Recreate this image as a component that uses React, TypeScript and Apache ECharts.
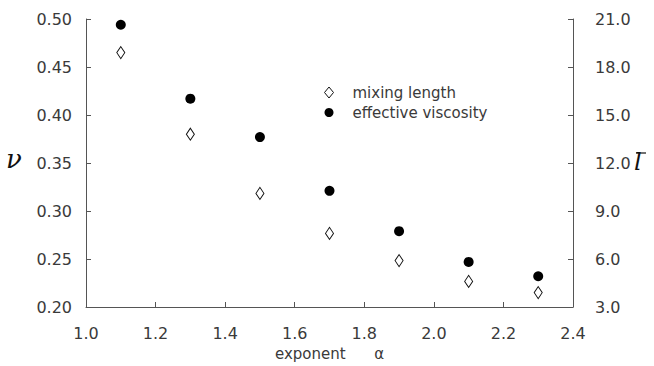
import React, { useEffect, useRef } from "react";
import * as echarts from "echarts";

const alphaValues = [1.1, 1.3, 1.5, 1.7, 1.9, 2.1, 2.3];
const effectiveViscosity = [0.494, 0.417, 0.377, 0.321, 0.279, 0.247, 0.232];
const mixingLength = [18.9, 13.8, 10.1, 7.6, 5.9, 4.6, 3.9];

const xTicks = { min: 1.0, max: 2.4, interval: 0.2 };
const nuTicks = { min: 0.2, max: 0.5, interval: 0.05 };
const lTicks = { min: 3, max: 21, interval: 3 };

const FONT = "DejaVu Sans";
const INK = "#3a3a3a";

export default function App() {
  const ref = useRef<HTMLDivElement>(null);
  useEffect(() => {
    document.body.style.margin = "0";
    const chart = echarts.init(ref.current!, null, { renderer: "svg" });
    const axisCommon = {
      axisLine: { show: true, lineStyle: { color: "#555", width: 1 } },
      axisTick: { show: true, inside: true, length: 5, lineStyle: { color: "#555" } },
      splitLine: { show: false },
    };
    chart.setOption({
      animation: false,
      backgroundColor: "#fff",
      grid: { left: 86, right: 81, top: 19, bottom: 55 },
      legend: {
        orient: "vertical",
        left: 319,
        top: 80,
        itemWidth: 9,
        itemHeight: 11,
        itemGap: 5,
        data: ["mixing length", "effective viscosity"],
        itemStyle: { borderWidth: 1 },
        textStyle: { fontFamily: FONT, fontSize: 15, color: INK, padding: [0, 0, 0, 14] },
      },
      xAxis: {
        type: "value",
        ...xTicks,
        ...axisCommon,
        axisLabel: {
          margin: 18,
          fontFamily: FONT,
          fontSize: 16,
          color: INK,
          formatter: (v: number) => v.toFixed(1),
        },
        name: "exponent      α",
        nameLocation: "middle",
        nameGap: 39,
        nameTextStyle: { fontFamily: FONT, fontSize: 15, color: INK },
      },
      yAxis: [
        {
          type: "value",
          position: "left",
          ...nuTicks,
          ...axisCommon,
          axisLabel: {
            margin: 14,
            fontFamily: FONT,
            fontSize: 16,
            color: INK,
            formatter: (v: number) => v.toFixed(2),
          },
        },
        {
          type: "value",
          position: "right",
          ...lTicks,
          ...axisCommon,
          axisLabel: {
            margin: 22,
            fontFamily: FONT,
            fontSize: 16,
            color: INK,
            formatter: (v: number) => v.toFixed(1),
          },
        },
      ],
      series: [
        {
          name: "mixing length",
          type: "scatter",
          yAxisIndex: 1,
          symbol: "diamond",
          symbolSize: [8, 12],
          itemStyle: { color: "#fff", borderColor: "#111", borderWidth: 1, opacity: 1 },
          data: alphaValues.map((a, i) => [a, mixingLength[i]]),
        },
        {
          name: "effective viscosity",
          type: "scatter",
          yAxisIndex: 0,
          symbol: "circle",
          symbolSize: 10,
          itemStyle: { color: "#000", opacity: 1 },
          data: alphaValues.map((a, i) => [a, effectiveViscosity[i]]),
        },
      ],
      graphic: [
        {
          type: "text",
          left: 6,
          top: 146,
          style: {
            text: "ν",
            fontFamily: "DejaVu Serif",
            fontStyle: "italic",
            fontSize: 26,
            fill: "#111",
          },
        },
        {
          type: "text",
          left: 634,
          top: 150,
          style: {
            text: "l",
            fontFamily: "DejaVu Serif",
            fontStyle: "italic",
            fontSize: 24,
            fill: "#111",
          },
        },
        {
          type: "line",
          shape: { x1: 636, y1: 153, x2: 646, y2: 153 },
          style: { stroke: "#111", lineWidth: 1.2 },
        },
      ],
    });
    return () => chart.dispose();
  }, []);
  return (
    <div
      ref={ref}
      style={{ position: "fixed", left: 0, top: 0, width: 654, height: 366 }}
    />
  );
}
